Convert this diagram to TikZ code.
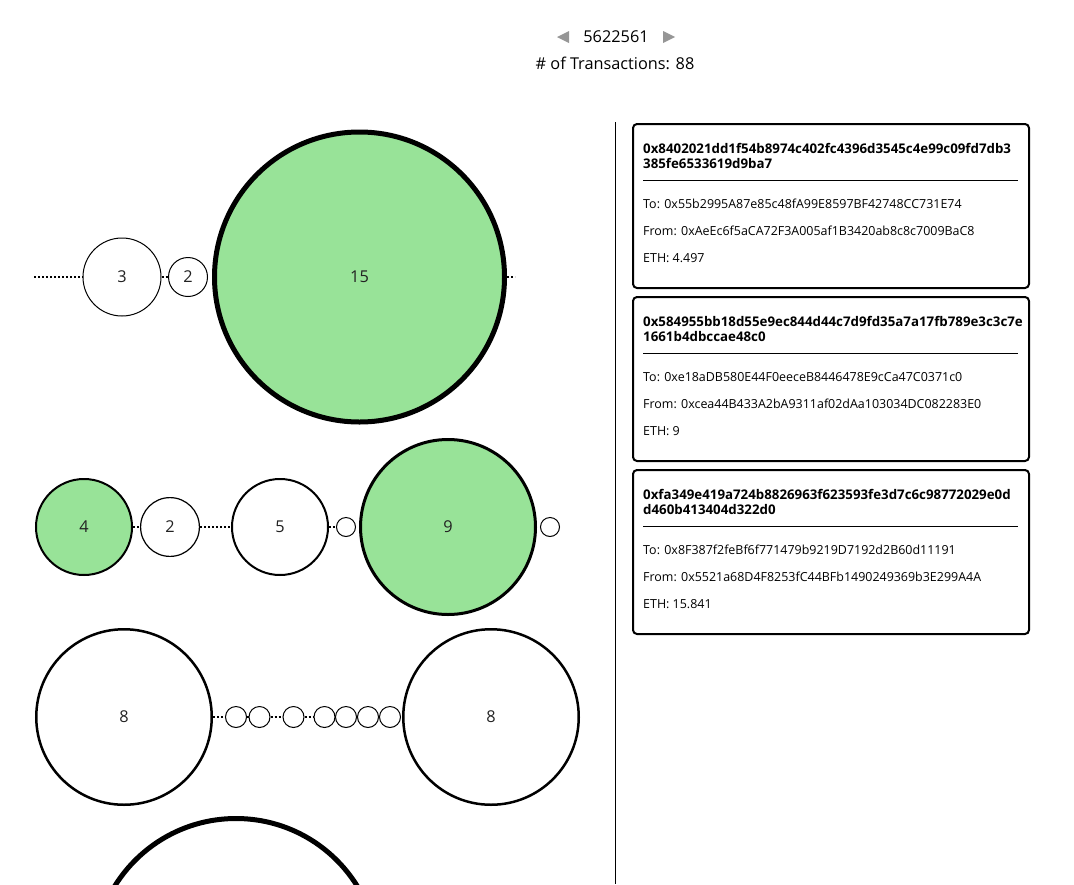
\documentclass[tikz,border=0pt]{standalone}
\usepackage{fontspec}
\setmainfont{Open Sans}
\definecolor{bubgreen}{RGB}{152,227,152}
\definecolor{numtxt}{RGB}{34,34,34}
\definecolor{arrowgray}{RGB}{150,150,150}
\tikzset{
  bub/.style={circle, draw=black, inner sep=0pt, text=numtxt, font=\fontsize{16.3}{16}\selectfont},
  grn/.style={fill=bubgreen},
  wht/.style={fill=white},
  link/.style={draw=black, line width=1.5pt, dash pattern=on 2pt off 2pt},
  card/.style={draw=black, line width=2pt, rounded corners=4pt, fill=white, minimum width=396pt, minimum height=164pt, inner sep=0pt},
  cardtitle/.style={anchor=base west, inner sep=0pt, font=\fontsize{13.3}{13}\selectfont\bfseries},
  cardtext/.style={anchor=base west, inner sep=0pt, font=\fontsize{12.45}{12}\selectfont},
  hdr/.style={inner sep=0pt, font=\fontsize{16.3}{16}\selectfont},
}
\begin{document}
\begin{tikzpicture}[x=1pt,y=-1pt]
\useasboundingbox (0,0) rectangle (1074,884);
\clip (0,0) rectangle (1074,884);

% header
\node[hdr] (block) at (616,37) {5622561};
\node[hdr] (ntx) at (615,63) {\# of Transactions: 88};
\fill[arrowgray] (557,37) -- (569,31) -- (569,43) -- cycle;
\fill[arrowgray] (675,37) -- (663,31) -- (663,43) -- cycle;

% divider
\coordinate (divtop) at (615,122);
\coordinate (divbot) at (615,884);
\draw[line width=1pt] (divtop) -- (divbot);

% row 1
\coordinate (r1start) at (34,277);
\coordinate (r1end) at (515,277);
\node[bub,wht,line width=1pt,minimum size=78pt] (c3) at (122,277) {3};
\node[bub,wht,line width=1pt,minimum size=39pt] (c2a) at (188,277) {2};
\node[bub,grn,line width=5pt,minimum size=290pt] (c15) at (359.5,277) {15};
\draw[link] (r1start) -- (c3);
\draw[link] (c3) -- (c2a);
\draw[link] (c15.east) -- (r1end);

% row 2
\node[bub,grn,line width=2pt,minimum size=96pt] (g4) at (84,527) {4};
\node[bub,wht,line width=1.2pt,minimum size=58.8pt] (w2) at (170,527) {2};
\node[bub,wht,line width=2pt,minimum size=96pt] (w5) at (280,527) {5};
\node[bub,wht,line width=1pt,minimum size=19pt] (s1) at (346,527) {};
\node[bub,grn,line width=3pt,minimum size=175pt] (g9) at (448,527) {9};
\node[bub,wht,line width=1pt,minimum size=19pt] (s2) at (550,527) {};
\draw[link] (g4) -- (w2);
\draw[link] (w2) -- (w5);
\draw[link] (w5) -- (s1);

% row 3
\node[bub,wht,line width=2.5pt,minimum size=175.5pt] (b8a) at (124,717) {8};
\node[bub,wht,line width=2.5pt,minimum size=175.5pt] (b8b) at (491,717) {8};
\foreach \n/\x in {1/236,2/259.5,3/293.5,4/324.5,5/346,6/368,7/390}{
  \node[bub,wht,line width=1pt,minimum size=21pt] (t\n) at (\x,717) {};
}
\draw[link] (b8a) -- (t1);
\draw[link] (t1) -- (t2);
\draw[link] (t2) -- (t3);
\draw[link] (t3) -- (t4);

% row 4 (cut off)
\node[bub,wht,line width=5pt,minimum size=285pt] (big4) at (236,961) {};

% cards
\foreach \i/\t/\ha/\hb/\to/\fr/\eth in {
  1/123/0x8402021dd1f54b8974c402fc4396d3545c4e99c09fd7db3/385fe6533619d9ba7/0x55b2995A87e85c48fA99E8597BF42748CC731E74/0xAeEc6f5aCA72F3A005af1B3420ab8c8c7009BaC8/4.497,
  2/296/0x584955bb18d55e9ec844d44c7d9fd35a7a17fb789e3c3c7e/1661b4dbccae48c0/0xe18aDB580E44F0eeceB8446478E9cCa47C0371c0/0xcea44B433A2bA9311af02dAa103034DC082283E0/9,
  3/469/0xfa349e419a724b8826963f623593fe3d7c6c98772029e0d/d460b413404d322d0/0x8F387f2feBf6f771479b9219D7192d2B60d11191/0x5521a68D4F8253fC44BFb1490249369b3E299A4A/15.841}{
  \node[card] (card\i) at (831,\t+83) {};
  \node[cardtitle] (ha\i) at (643,\t+30.5) {\ha};
  \node[cardtitle] (hb\i) at (643,\t+45.5) {\hb};
  \coordinate (rl\i) at (643,\t+57);
  \coordinate (rr\i) at (1018,\t+57);
  \draw[line width=1pt] (rl\i) -- (rr\i);
  \node[cardtext] (to\i) at (643,\t+85.5) {To: \to};
  \node[cardtext] (fr\i) at (643,\t+112.5) {From: \fr};
  \node[cardtext] (eth\i) at (643,\t+139.5) {ETH: \eth};
}
\end{tikzpicture}
\end{document}
